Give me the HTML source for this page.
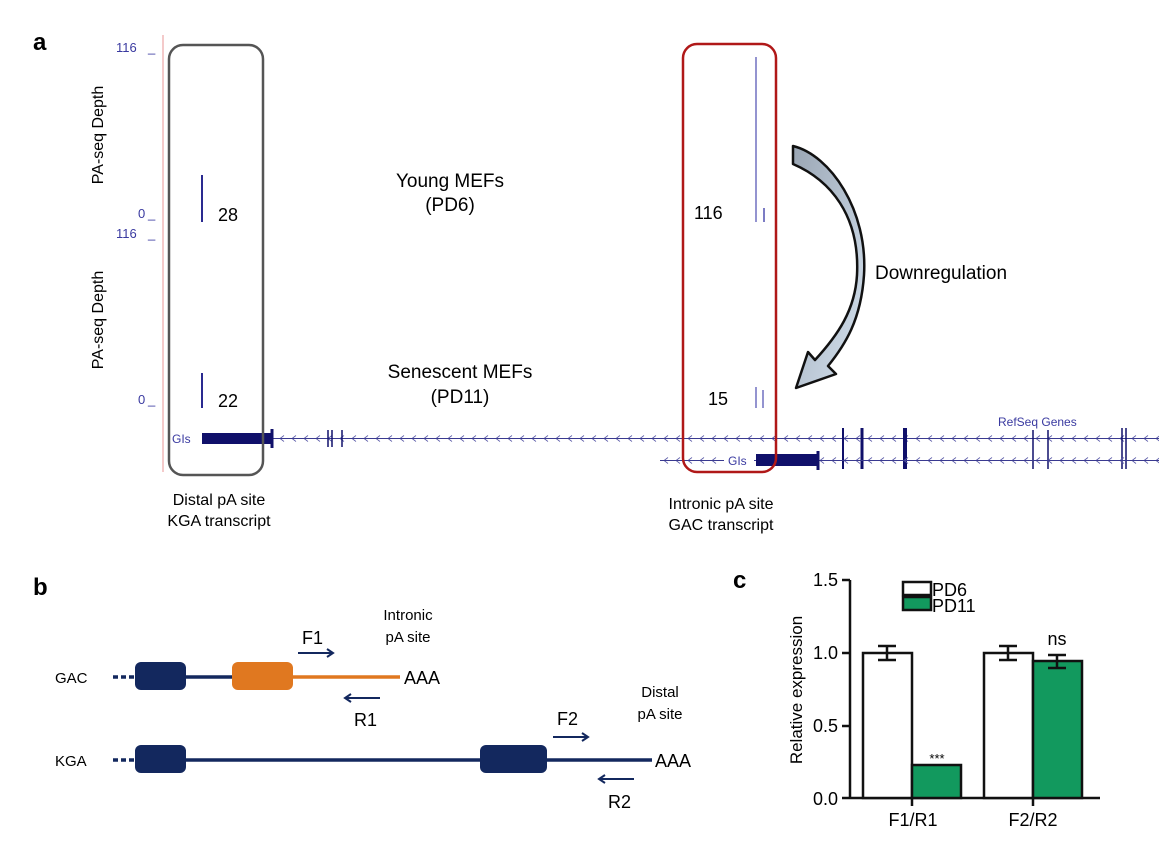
<!DOCTYPE html>
<html><head><style>body{margin:0;background:#fff}svg{display:block}</style></head><body>
<svg width="1159" height="844" viewBox="0 0 1159 844" xmlns="http://www.w3.org/2000/svg" font-family="Liberation Sans, sans-serif">
<defs>
<pattern id="ar" x="0" y="430" width="12" height="16" patternUnits="userSpaceOnUse"><path d="M8 5.5 L4 8.5 L8 11.5" stroke="#5a5aa8" stroke-width="0.8" fill="none"/></pattern>
<pattern id="ar2" x="0" y="452" width="12" height="16" patternUnits="userSpaceOnUse"><path d="M8 5.5 L4 8.5 L8 11.5" stroke="#5a5aa8" stroke-width="0.8" fill="none"/></pattern>
<linearGradient id="ag" x1="0" y1="0" x2="1" y2="1"><stop offset="0" stop-color="#9aa6b4"/><stop offset="1" stop-color="#d5e2ef"/></linearGradient>
</defs>
<text x="33" y="50" font-size="24" font-weight="bold">a</text>
<text x="33" y="595" font-size="24" font-weight="bold">b</text>
<text x="733" y="588" font-size="24" font-weight="bold">c</text>
<g fill="#3a3aa0" font-size="13">
<text x="116" y="52">116</text><text x="148" y="52">_</text>
<text x="138" y="218">0</text><text x="148" y="218">_</text>
<text x="116" y="238">116</text><text x="148" y="238">_</text>
<text x="138" y="404">0</text><text x="148" y="404">_</text>
</g>
<text transform="translate(103,135) rotate(-90)" font-size="16" text-anchor="middle">PA-seq Depth</text>
<text transform="translate(103,320) rotate(-90)" font-size="16" text-anchor="middle">PA-seq Depth</text>
<line x1="163" y1="35" x2="163" y2="472" stroke="#f0b8b8" stroke-width="1.5"/>
<g stroke="#2a2a90">
<line x1="202" y1="175" x2="202" y2="222" stroke-width="2"/>
<line x1="202" y1="373" x2="202" y2="408" stroke-width="2"/>
<line x1="756" y1="57" x2="756" y2="222" stroke="#7070c0" stroke-width="1.5"/>
<line x1="764" y1="208" x2="764" y2="222" stroke="#5050b0" stroke-width="1.5"/>
<line x1="756" y1="387" x2="756" y2="408" stroke="#7070c0" stroke-width="1.5"/>
<line x1="763" y1="390" x2="763" y2="408" stroke="#7070c0" stroke-width="1.5"/>
</g>
<g font-size="18">
<text x="218" y="221">28</text><text x="218" y="407">22</text>
<text x="694" y="219">116</text><text x="708" y="405">15</text>
</g>
<g font-size="19" text-anchor="middle">
<text x="450" y="187">Young MEFs</text><text x="450" y="211">(PD6)</text>
<text x="460" y="378">Senescent MEFs</text><text x="460" y="403">(PD11)</text>
</g>
<text x="875" y="279" font-size="19">Downregulation</text>
<text x="172" y="443" font-size="12" fill="#3a3aa0">GIs</text>
<rect x="202" y="433" width="70" height="11" fill="#10106a"/>
<rect x="272" y="430" width="887" height="16" fill="url(#ar)"/>
<g stroke="#10106a">
<line x1="272" y1="438.5" x2="1159" y2="438.5" stroke-width="1" stroke="#3a3a90"/>
<line x1="272" y1="429" x2="272" y2="448" stroke-width="3"/>
<line x1="328" y1="430" x2="328" y2="447" stroke-width="1.5"/><line x1="332" y1="430" x2="332" y2="447" stroke-width="1.5"/><line x1="342" y1="430" x2="342" y2="447" stroke-width="1.5"/>
<line x1="843" y1="428" x2="843" y2="469" stroke-width="2"/><line x1="862" y1="428" x2="862" y2="469" stroke-width="3"/><line x1="905" y1="428" x2="905" y2="469" stroke-width="4"/>
<line x1="1033" y1="430" x2="1033" y2="469" stroke-width="1.5"/><line x1="1048" y1="430" x2="1048" y2="469" stroke-width="1.5"/>
<line x1="1122" y1="428" x2="1122" y2="469" stroke-width="1.5"/><line x1="1126" y1="428" x2="1126" y2="469" stroke-width="1.5"/>
</g>
<rect x="660" y="452" width="499" height="16" fill="url(#ar2)"/>
<line x1="660" y1="460.5" x2="1159" y2="460.5" stroke="#3a3a90"/>
<rect x="724" y="453" width="30" height="14" fill="#fff"/>
<text x="728" y="465" font-size="12" fill="#3a3aa0">GIs</text>
<rect x="756" y="454" width="62" height="12" fill="#10106a"/>
<line x1="818" y1="451" x2="818" y2="470" stroke="#10106a" stroke-width="3"/>
<text x="998" y="426" font-size="12" fill="#3a3aa0">RefSeq Genes</text>
<rect x="169" y="45" width="94" height="430" rx="14" fill="none" stroke="#555" stroke-width="2.5"/>
<rect x="683" y="44" width="93" height="428" rx="14" fill="none" stroke="#b01818" stroke-width="2.5"/>
<path d="M793 146 C830 155 868 210 864 275 C861 320 845 345 828 366 L836 374 L796 388 L808 352 L815 360 C838 335 855 310 857 275 C860 215 830 180 793 164 Z" fill="url(#ag)" stroke="#111" stroke-width="2.5" stroke-linejoin="round"/>
<g font-size="16" text-anchor="middle">
<text x="219" y="505">Distal pA site</text><text x="219" y="526">KGA transcript</text>
<text x="721" y="509">Intronic pA site</text><text x="721" y="530">GAC transcript</text>
</g>
<g font-size="15"><text x="55" y="683">GAC</text><text x="55" y="766">KGA</text></g>
<g stroke="#13285e" stroke-width="3.5">
<line x1="113" y1="677" x2="135" y2="677" stroke-dasharray="5,3"/>
<line x1="186" y1="677" x2="232" y2="677"/>
<line x1="113" y1="760" x2="135" y2="760" stroke-dasharray="5,3"/>
<line x1="186" y1="760" x2="652" y2="760"/>
</g>
<line x1="293" y1="677" x2="400" y2="677" stroke="#e07820" stroke-width="3.5"/>
<rect x="135" y="662" width="51" height="28" rx="6" fill="#13285e"/>
<rect x="232" y="662" width="61" height="28" rx="6" fill="#e07820"/>
<rect x="135" y="745" width="51" height="28" rx="6" fill="#13285e"/>
<rect x="480" y="745" width="67" height="28" rx="6" fill="#13285e"/>
<g font-size="18"><text x="404" y="684">AAA</text><text x="655" y="767">AAA</text>
<text x="302" y="644">F1</text><text x="354" y="726">R1</text><text x="557" y="725">F2</text><text x="608" y="808">R2</text></g>
<g font-size="15" text-anchor="middle"><text x="408" y="620">Intronic</text><text x="408" y="642">pA site</text>
<text x="660" y="697">Distal</text><text x="660" y="719">pA site</text></g>
<g stroke="#13285e" stroke-width="2" fill="none">
<path d="M298 653 H333 M327 649 L333 653 L327 657"/>
<path d="M380 698 H345 M351 694 L345 698 L351 702"/>
<path d="M553 737 H588 M582 733 L588 737 L582 741"/>
<path d="M634 779 H599 M605 775 L599 779 L605 783"/>
</g>
<g stroke="#111" stroke-width="2.5">
<line x1="850" y1="580" x2="850" y2="799"/><line x1="842" y1="580" x2="850" y2="580"/><line x1="842" y1="653" x2="850" y2="653"/><line x1="842" y1="726" x2="850" y2="726"/><line x1="842" y1="798" x2="850" y2="798"/>
<line x1="850" y1="798" x2="1100" y2="798"/>
<line x1="912" y1="798" x2="912" y2="806"/><line x1="1033" y1="798" x2="1033" y2="806"/>
<rect x="863" y="653" width="49" height="145" fill="#fff"/>
<rect x="912" y="765" width="49" height="33" fill="#12995e"/>
<rect x="984" y="653" width="49" height="145" fill="#fff"/>
<rect x="1033" y="661" width="49" height="137" fill="#12995e"/>
<path d="M887 646 V660 M878 646 H896 M878 660 H896 M1008 646 V660 M999 646 H1017 M999 660 H1017 M1057 655 V668 M1048 655 H1066 M1048 668 H1066" fill="none"/>
<rect x="903" y="582" width="28" height="13" fill="#fff"/><rect x="903" y="597" width="28" height="13" fill="#12995e"/>
</g>
<g font-size="18" text-anchor="end"><text x="838" y="586">1.5</text><text x="838" y="659">1.0</text><text x="838" y="732">0.5</text><text x="838" y="805">0.0</text></g>
<g font-size="18" text-anchor="middle"><text x="913" y="826">F1/R1</text><text x="1033" y="826">F2/R2</text><text x="1057" y="645">ns</text><text x="937" y="763" font-size="13">***</text></g>
<g font-size="18"><text x="932" y="596">PD6</text><text x="932" y="612">PD11</text></g>
<text transform="translate(802,690) rotate(-90)" font-size="17" text-anchor="middle">Relative expression</text>
</svg>
</body></html>
